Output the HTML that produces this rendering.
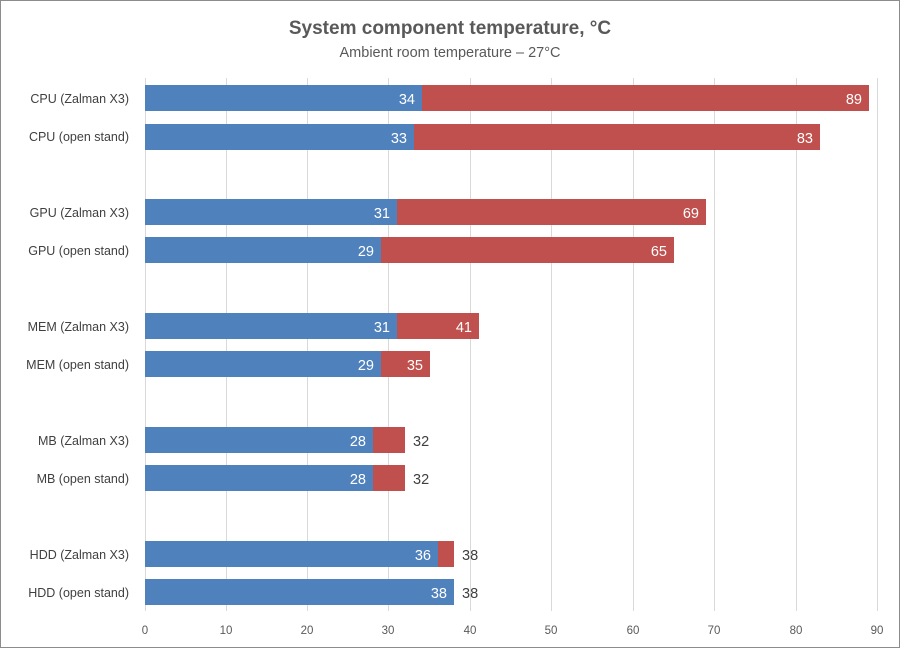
<!DOCTYPE html>
<html><head><meta charset="utf-8"><style>
body{margin:0;background:#fff}
svg text{font-family:"Liberation Sans",sans-serif}
</style></head><body>
<svg width="900" height="648" xmlns="http://www.w3.org/2000/svg">
<rect x="0.5" y="0.5" width="899" height="647" fill="#fff" stroke="#8c8c8c"/>
<text x="450" y="34" text-anchor="middle" font-size="19" font-weight="bold" fill="#595959">System component temperature, °C</text>
<text x="450" y="57" text-anchor="middle" font-size="14.5" fill="#595959">Ambient room temperature – 27°C</text>
<g stroke="#d9d9d9" stroke-width="1">
<line x1="145.5" y1="78" x2="145.5" y2="611"/>
<line x1="226.5" y1="78" x2="226.5" y2="611"/>
<line x1="307.5" y1="78" x2="307.5" y2="611"/>
<line x1="388.5" y1="78" x2="388.5" y2="611"/>
<line x1="470.5" y1="78" x2="470.5" y2="611"/>
<line x1="551.5" y1="78" x2="551.5" y2="611"/>
<line x1="633.5" y1="78" x2="633.5" y2="611"/>
<line x1="714.5" y1="78" x2="714.5" y2="611"/>
<line x1="796.5" y1="78" x2="796.5" y2="611"/>
<line x1="877.5" y1="78" x2="877.5" y2="611"/>
</g>
<g font-size="11.5" fill="#595959" text-anchor="middle">
<text x="145" y="634">0</text><text x="226" y="634">10</text><text x="307" y="634">20</text><text x="388" y="634">30</text><text x="470" y="634">40</text><text x="551" y="634">50</text><text x="633" y="634">60</text><text x="714" y="634">70</text><text x="796" y="634">80</text><text x="877" y="634">90</text>
</g>
<g font-size="12.5" fill="#404040" text-anchor="end">
<text x="129" y="103">CPU (Zalman X3)</text>
<text x="129" y="141">CPU (open stand)</text>
<text x="129" y="217">GPU (Zalman X3)</text>
<text x="129" y="255">GPU (open stand)</text>
<text x="129" y="331">MEM (Zalman X3)</text>
<text x="129" y="369">MEM (open stand)</text>
<text x="129" y="445">MB (Zalman X3)</text>
<text x="129" y="483">MB (open stand)</text>
<text x="129" y="559">HDD (Zalman X3)</text>
<text x="129" y="597">HDD (open stand)</text>
</g>
<g>
<rect x="145" y="85" width="724" height="26" fill="#c0504d"/><rect x="145" y="85" width="277" height="26" fill="#4f81bd"/>
<rect x="145" y="124" width="675" height="26" fill="#c0504d"/><rect x="145" y="124" width="269" height="26" fill="#4f81bd"/>
<rect x="145" y="199" width="561" height="26" fill="#c0504d"/><rect x="145" y="199" width="252" height="26" fill="#4f81bd"/>
<rect x="145" y="237" width="529" height="26" fill="#c0504d"/><rect x="145" y="237" width="236" height="26" fill="#4f81bd"/>
<rect x="145" y="313" width="334" height="26" fill="#c0504d"/><rect x="145" y="313" width="252" height="26" fill="#4f81bd"/>
<rect x="145" y="351" width="285" height="26" fill="#c0504d"/><rect x="145" y="351" width="236" height="26" fill="#4f81bd"/>
<rect x="145" y="427" width="260" height="26" fill="#c0504d"/><rect x="145" y="427" width="228" height="26" fill="#4f81bd"/>
<rect x="145" y="465" width="260" height="26" fill="#c0504d"/><rect x="145" y="465" width="228" height="26" fill="#4f81bd"/>
<rect x="145" y="541" width="309" height="26" fill="#c0504d"/><rect x="145" y="541" width="293" height="26" fill="#4f81bd"/>
<rect x="145" y="579" width="309" height="26" fill="#4f81bd"/>
</g>
<g font-size="14.5" fill="#fff" text-anchor="end">
<text x="415" y="104">34</text><text x="862" y="104">89</text>
<text x="407" y="143">33</text><text x="813" y="143">83</text>
<text x="390" y="218">31</text><text x="699" y="218">69</text>
<text x="374" y="256">29</text><text x="667" y="256">65</text>
<text x="390" y="332">31</text><text x="472" y="332">41</text>
<text x="374" y="370">29</text><text x="423" y="370">35</text>
<text x="366" y="446">28</text>
<text x="366" y="484">28</text>
<text x="431" y="560">36</text>
<text x="447" y="598">38</text>
</g>
<g font-size="14.5" fill="#404040">
<text x="413" y="446">32</text>
<text x="413" y="484">32</text>
<text x="462" y="560">38</text>
<text x="462" y="598">38</text>
</g>
</svg>
</body></html>
